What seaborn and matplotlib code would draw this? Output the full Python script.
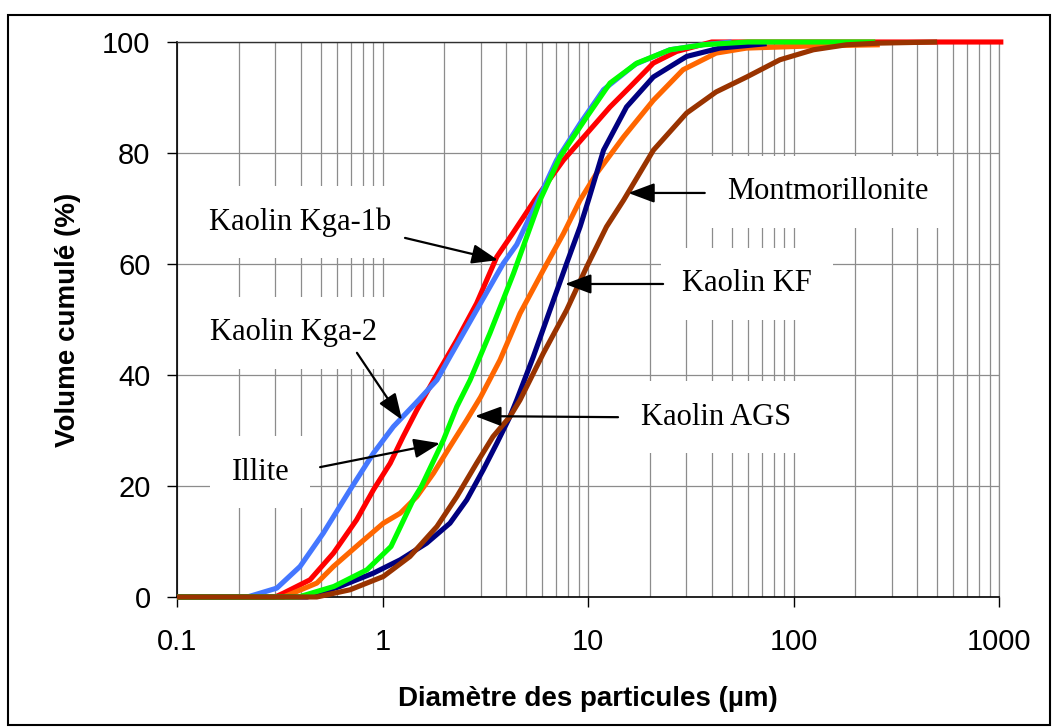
import numpy as np
import pandas as pd
import matplotlib
matplotlib.use("Agg")
import matplotlib.pyplot as plt
from matplotlib.patches import Rectangle
from matplotlib.ticker import FixedLocator, NullFormatter
import seaborn as sns

# ---------------- data ----------------
kga2_x = [0.1, 0.22, 0.306, 0.397, 0.515, 0.695, 0.903, 1.13, 1.5, 1.84, 2.13, 2.87, 3.87, 4.5, 5.03, 5.63, 7.03, 9.15, 11.9, 17, 25, 36, 50]
kga2_y = [0, 0, 1.6, 5.5, 11.5, 19.3, 25.9, 30.7, 35.5, 39.1, 43.3, 51.7, 60.1, 63.5, 67.3, 71, 78.7, 85.3, 91.4, 96, 98.6, 99.5, 100]

illite_x = [0.1, 0.39, 0.58, 0.84, 1.1, 1.41, 1.55, 1.98, 2.30, 2.67, 3.33, 4.34, 5.84, 7.31, 9.86, 12.8, 17.3, 25.1, 36.3, 60, 250]
illite_y = [0, 0, 1.9, 4.9, 9.1, 17.5, 20, 28.3, 34.3, 39.1, 47.5, 58.3, 71.5, 79.3, 86.5, 92.6, 96.2, 98.6, 99.5, 100, 100]

kga1b_x = [0.1, 0.30, 0.33, 0.444, 0.577, 0.748, 0.903, 1.09, 1.26, 1.47, 1.80, 2.30, 2.87, 3.6, 4.3, 5.5, 7.59, 9.86, 12.8, 16, 20.8, 27, 40, 1050]
kga1b_y = [0, 0, 0.7, 3.1, 7.9, 13.9, 19.3, 24.1, 28.9, 33.7, 39.5, 46.3, 52.9, 61.3, 65.5, 71.5, 78.7, 83.5, 88.3, 91.9, 96.2, 98.3, 100, 100]

ags_x = [0.1, 0.33, 0.479, 0.577, 0.778, 1.01, 1.22, 1.47, 1.77, 2.13, 2.57, 3.0, 3.73, 4.67, 6.06, 7.6, 9.15, 11.0, 14.9, 20.8, 29, 42, 59, 125, 263]
ags_y = [0, 0, 2.5, 5.5, 9.7, 13.3, 15.1, 18.1, 22.3, 27.1, 31.9, 36, 42.7, 51.1, 58.9, 65.5, 71.5, 76.3, 82.9, 89.5, 95, 98, 98.9, 99.3, 99.5]

kf_x = [0.1, 0.43, 0.621, 0.903, 1.22, 1.64, 2.13, 2.57, 3.09, 3.6, 4.17, 4.5, 5.42, 6.53, 7.87, 9.15, 10.05, 11.9, 15.4, 20.8, 30.2, 43.8, 74]
kf_y = [0, 0, 1.9, 4.3, 6.7, 9.7, 13.3, 17.5, 22.9, 27.7, 32.5, 35.5, 43.3, 51.7, 60.1, 66.7, 71.5, 80.5, 88.3, 93.7, 97.4, 98.9, 99.7]

mont_x = [0.1, 0.479, 0.695, 1.01, 1.36, 1.84, 2.3, 2.87, 3.45, 4.17, 4.67, 6.06, 7.87, 9.86, 12.3, 14.9, 20.8, 30.2, 42, 59.2, 85.9, 125, 181, 263, 500]
mont_y = [0, 0, 1.3, 3.7, 7.3, 12.7, 18.1, 24.1, 28.9, 32.5, 35.5, 43.9, 51.7, 59.5, 66.7, 71.5, 80.5, 87.2, 91, 93.7, 96.8, 98.6, 99.5, 99.8, 100]

series_names = ["Kaolin Kga-1b", "Kaolin Kga-2", "Kaolin AGS", "Kaolin KF", "Illite", "Montmorillonite"]
series_x = [kga1b_x, kga2_x, ags_x, kf_x, illite_x, mont_x]
series_y = [kga1b_y, kga2_y, ags_y, kf_y, illite_y, mont_y]
colors = ["#FF0000", "#4477FF", "#FF6600", "#000080", "#00FF00", "#993300"]

x_ticks = [0.1, 1, 10, 100, 1000]
x_tick_labels = ["0.1", "1", "10", "100", "1000"]
y_ticks = [0, 20, 40, 60, 80, 100]

# annotations: label, text position, arrow tail, arrow tip (data coords)
ann_labels = ["Kaolin Kga-1b", "Kaolin Kga-2", "Illite", "Kaolin AGS", "Kaolin KF", "Montmorillonite"]
ann_text = [(0.397, 67.6), (0.367, 47.6), (0.254, 22.5), (42.0, 32.4), (59.4, 56.4), (147.0, 73.0)]
ann_tail = [(1.287, 64.7), (0.751, 44.0), (0.497, 23.4), (14.0, 32.4), (23.2, 56.4), (37.0, 72.8)]
ann_tip = [(3.65, 60.7), (1.245, 31.9), (1.905, 27.7), (2.82, 32.6), (7.73, 56.4), (15.7, 72.8)]

# ---------------- figure ----------------
sns.set_style("white")
plt.rcParams["font.family"] = ["Liberation Sans", "DejaVu Sans"]
plt.rcParams["text.color"] = "black"
plt.rcParams["axes.labelcolor"] = "black"
plt.rcParams["xtick.color"] = "black"
plt.rcParams["ytick.color"] = "black"

fig = plt.figure(figsize=(10.54, 7.27), dpi=100)
ax = fig.add_axes([177 / 1054, 1 - 597 / 727, (999 - 177) / 1054, (597 - 42) / 727])

frames = []
for name, xs, ys in zip(series_names, series_x, series_y):
    frames.append(pd.DataFrame({"d": xs, "v": ys, "name": name}))
df = pd.concat(frames, ignore_index=True)

sns.lineplot(data=df, x="d", y="v", hue="name", hue_order=series_names,
             palette=dict(zip(series_names, colors)), sort=False,
             estimator=None, linewidth=3.7, legend=False, ax=ax, zorder=3)
for ln in ax.lines:
    ln.set_clip_on(False)
    ln.set_solid_capstyle("butt")
    ln.set_solid_joinstyle("round")

ax.set_xscale("log")
ax.set_xlim(0.1, 1000)
ax.set_ylim(0, 100)

ax.set_xticks(x_ticks)
ax.set_xticklabels(x_tick_labels)
minor = [m * 10.0 ** e for e in range(-1, 3) for m in range(2, 10)]
ax.xaxis.set_minor_locator(FixedLocator(minor))
ax.xaxis.set_minor_formatter(NullFormatter())
ax.set_yticks(y_ticks)

ax.set_axisbelow(True)
ax.grid(True, which="both", axis="x", color="#8c8c8c", linewidth=0.9)
ax.grid(True, which="major", axis="y", color="#8c8c8c", linewidth=0.9)

ax.tick_params(axis="x", which="major", direction="out", length=7, width=1,
               color="black", labelcolor="black", labelsize=21, pad=15, bottom=True)
ax.tick_params(axis="x", which="minor", length=0)
ax.tick_params(axis="y", direction="out", length=7, width=1, color="black",
               labelcolor="black", labelsize=21, pad=12, left=True)

for s in ["left", "bottom"]:
    ax.spines[s].set_color("black")
    ax.spines[s].set_linewidth(1.2)
ax.spines["top"].set_color("#303030")
ax.spines["top"].set_linewidth(1.0)
ax.spines["right"].set_color("#8c8c8c")
ax.spines["right"].set_linewidth(0.9)

ax.set_xlabel("Diamètre des particules (µm)", fontsize=20, fontweight="bold", labelpad=22, color="black")
ax.set_ylabel("Volume cumulé (%)", fontsize=20, fontweight="bold", labelpad=15, color="black")

serif = ["Liberation Serif", "DejaVu Serif"]
for lab, tpos, tail, tip in zip(ann_labels, ann_text, ann_tail, ann_tip):
    ax.text(tpos[0], tpos[1], lab, family=serif, fontsize=22, ha="center", va="center",
            color="black", zorder=2,
            bbox=dict(boxstyle="square,pad=0.7", facecolor="white", edgecolor="none"))
    ax.annotate("", xy=tip, xytext=tail,
                arrowprops=dict(arrowstyle="-|>,head_length=1.6,head_width=0.6",
                                color="black", lw=1.6, shrinkA=0, shrinkB=0),
                zorder=5)

fig.add_artist(Rectangle((8 / 1054, 2 / 727), 1042 / 1054, 710 / 727,
                         transform=fig.transFigure, fill=False, edgecolor="black",
                         linewidth=1.5))

fig.savefig("out.png", dpi=100)
